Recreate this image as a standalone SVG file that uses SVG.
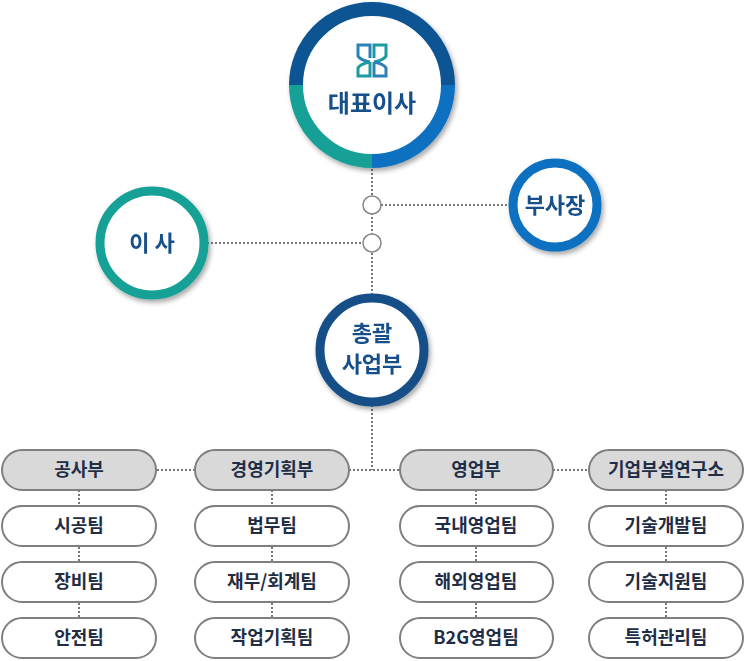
<svg xmlns="http://www.w3.org/2000/svg" width="745" height="661" viewBox="0 0 745 661">
<defs>
<filter id="sh" x="-20%" y="-20%" width="150%" height="150%"><feDropShadow dx="2" dy="3" stdDeviation="2.5" flood-color="#000" flood-opacity="0.35"/></filter>
<style>
.l{stroke:#777;stroke-width:2;stroke-dasharray:2 2;fill:none}
.p{fill:#fff;stroke:#7f7f7f;stroke-width:2}
.h{fill:#d9d9d9;stroke:#7f7f7f;stroke-width:2}
.t{font-family:"Noto Sans CJK KR","Noto Sans",sans-serif;font-weight:bold;font-size:18px;fill:#1f2d45;text-anchor:middle}
.c{font-family:"Noto Sans CJK KR","Noto Sans",sans-serif;font-weight:bold;fill:#15508a;text-anchor:middle}
</style>
</defs>
<g id="connectors">
<path class="l" d="M372 161V298M372 405V470M157 470H194M349 470H400M553 470H589M79 490V505M79 547V562M79 603V618M272 490V505M272 547V562M272 603V618M476 490V505M476 547V562M476 603V618M666 490V505M666 547V562M666 603V618M381 205H510M207 243H363"/>
<circle cx="372" cy="205" r="9" fill="#fff" stroke="#888" stroke-width="1.5"/>
<circle cx="372" cy="243" r="9" fill="#fff" stroke="#888" stroke-width="1.5"/>
</g>
<g id="ceo" filter="url(#sh)">
<circle cx="372" cy="85" r="70" fill="#fff"/>
<path d="M296 85A76 76 0 0 1 448 85" fill="none" stroke="#0f5592" stroke-width="14"/>
<path d="M448 85A76 76 0 0 1 372 161" fill="none" stroke="#0a6fc0" stroke-width="14"/>
<path d="M372 161A76 76 0 0 1 296 85" fill="none" stroke="#14a096" stroke-width="14"/>
<g fill="none" stroke-width="3"><path d="M370 58V45H358V56Q360 60 370 62" stroke="#2a82b8"/><path d="M374 58V45H386V56Q384 60 374 62" stroke="#1d9aa0"/><path d="M370 62Q360 64 358 68V76H370V62" stroke="#1d9aa0"/><path d="M374 62Q384 64 386 68V76H374V62" stroke="#2a82b8"/></g>
<text class="c" x="372" y="112" font-size="24">대표이사</text>
</g>
<g id="vp" filter="url(#sh)">
<circle cx="555" cy="205" r="42" fill="#fff" stroke="#0a6fc0" stroke-width="9"/>
<text class="c" x="555" y="213" font-size="22">부사장</text>
</g>
<g id="director" filter="url(#sh)">
<circle cx="152" cy="243" r="52" fill="#fff" stroke="#14a096" stroke-width="9"/>
<text class="c" x="152" y="251" font-size="22">이 사</text>
</g>
<g id="hq" filter="url(#sh)">
<circle cx="372" cy="350" r="52" fill="#fff" stroke="#155088" stroke-width="9"/>
<text class="c" x="372" y="341" font-size="22">총괄</text>
<text class="c" x="372" y="372" font-size="22">사업부</text>
</g>
<g id="n1"><rect class="h" x="2" y="450" width="154" height="40" rx="20"/><text class="t" x="79" y="476">공사부</text></g>
<g id="n2"><rect class="h" x="195" y="450" width="154" height="40" rx="20"/><text class="t" x="272" y="476">경영기획부</text></g>
<g id="n3"><rect class="h" x="400" y="450" width="153" height="40" rx="20"/><text class="t" x="476" y="476">영업부</text></g>
<g id="n4"><rect class="h" x="589" y="450" width="154" height="40" rx="20"/><text class="t" x="666" y="476">기업부설연구소</text></g>
<g id="n5"><rect class="p" x="2" y="506" width="154" height="40" rx="20"/><text class="t" x="79" y="532">시공팀</text></g>
<g id="n6"><rect class="p" x="2" y="562" width="154" height="40" rx="20"/><text class="t" x="79" y="588">장비팀</text></g>
<g id="n7"><rect class="p" x="2" y="618" width="154" height="40" rx="20"/><text class="t" x="79" y="644">안전팀</text></g>
<g id="n8"><rect class="p" x="195" y="506" width="154" height="40" rx="20"/><text class="t" x="272" y="532">법무팀</text></g>
<g id="n9"><rect class="p" x="195" y="562" width="154" height="40" rx="20"/><text class="t" x="272" y="588">재무/회계팀</text></g>
<g id="n10"><rect class="p" x="195" y="618" width="154" height="40" rx="20"/><text class="t" x="272" y="644">작업기획팀</text></g>
<g id="n11"><rect class="p" x="400" y="506" width="153" height="40" rx="20"/><text class="t" x="476" y="532">국내영업팀</text></g>
<g id="n12"><rect class="p" x="400" y="562" width="153" height="40" rx="20"/><text class="t" x="476" y="588">해외영업팀</text></g>
<g id="n13"><rect class="p" x="400" y="618" width="153" height="40" rx="20"/><text class="t" x="476" y="644">B2G영업팀</text></g>
<g id="n14"><rect class="p" x="589" y="506" width="154" height="40" rx="20"/><text class="t" x="666" y="532">기술개발팀</text></g>
<g id="n15"><rect class="p" x="589" y="562" width="154" height="40" rx="20"/><text class="t" x="666" y="588">기술지원팀</text></g>
<g id="n16"><rect class="p" x="589" y="618" width="154" height="40" rx="20"/><text class="t" x="666" y="644">특허관리팀</text></g>
</svg>
